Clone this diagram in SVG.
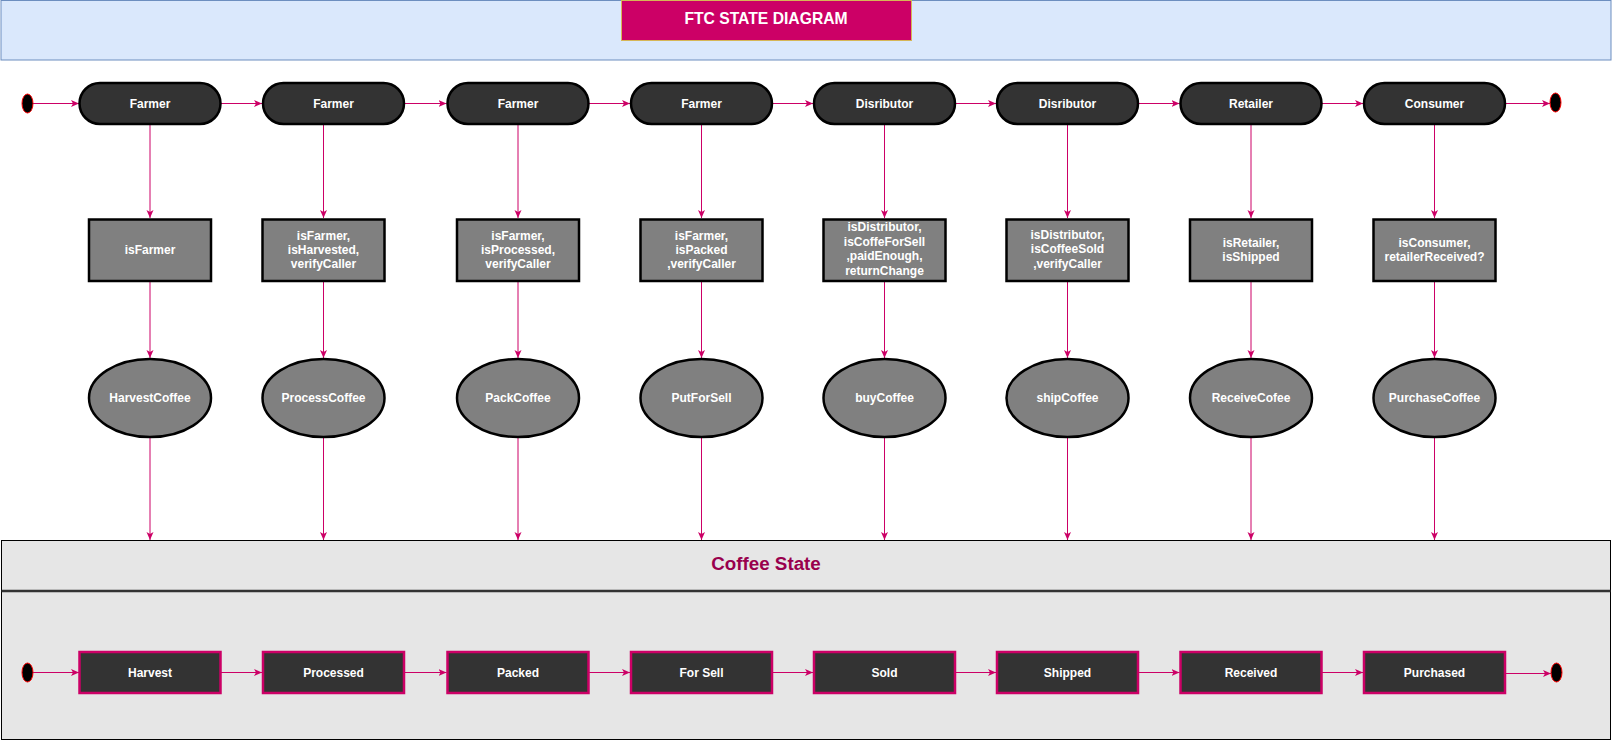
<svg xmlns="http://www.w3.org/2000/svg" width="1612" height="741" viewBox="0 0 1612 741">
<style>
text{font-family:"Liberation Sans",Arial,Helvetica,sans-serif;font-weight:bold;fill:#ffffff;text-anchor:middle;font-size:12px}
.pill{fill:#333333;stroke:#000000;stroke-width:2.5}
.guard{fill:#808080;stroke:#000000;stroke-width:2.5}
.act{fill:#808080;stroke:#000000;stroke-width:2.5}
.st{fill:#333333;stroke:#CC0066;stroke-width:2.5}
.dot{fill:#000000;stroke:#FF0000;stroke-width:1}
.c{stroke:#CC0066;stroke-width:1;fill:none;marker-end:url(#arr)}
</style>
<defs>
<marker id="arr" markerUnits="userSpaceOnUse" markerWidth="9" markerHeight="8" refX="8" refY="3.5" orient="auto">
<path d="M0,0 L8,3.5 L0,7 L2,3.5 Z" fill="#CC0066"/>
</marker>
</defs>
<rect width="1612" height="741" fill="#ffffff"/>
<g id="banner">
<rect x="1" y="0.5" width="1610" height="59.5" fill="#DAE8FC" stroke="#6C8EBF" stroke-width="1"/>
</g>
<g id="title">
<rect x="621.5" y="0.5" width="290" height="40" fill="#CC0066" stroke="#D6B656" stroke-width="1"/>
<text x="766" y="24" style="font-size:15.7px">FTC STATE DIAGRAM</text>
</g>
<g id="coffee-state">
<rect x="1.5" y="540.5" width="1609" height="199" fill="#E6E6E6" stroke="#000000" stroke-width="1"/>
<line x1="1.5" y1="591" x2="1610.5" y2="591" stroke="#333333" stroke-width="2.5"/>
<text x="766" y="569.5" style="font-size:18.8px;fill:#99004D">Coffee State</text>
</g>
<g id="connectors">
<line class="c" x1="33" y1="103.5" x2="79" y2="103.5"/>
<line class="c" x1="220.5" y1="103.5" x2="262" y2="103.5"/>
<line class="c" x1="404" y1="103.5" x2="446.5" y2="103.5"/>
<line class="c" x1="588.5" y1="103.5" x2="630" y2="103.5"/>
<line class="c" x1="772" y1="103.5" x2="813" y2="103.5"/>
<line class="c" x1="955" y1="103.5" x2="996" y2="103.5"/>
<line class="c" x1="1138" y1="103.5" x2="1179.5" y2="103.5"/>
<line class="c" x1="1321.5" y1="103.5" x2="1363" y2="103.5"/>
<line class="c" x1="1505" y1="103.5" x2="1550" y2="103.5"/>
<line class="c" x1="150" y1="124" x2="150" y2="218"/>
<line class="c" x1="323.5" y1="124" x2="323.5" y2="218"/>
<line class="c" x1="518" y1="124" x2="518" y2="218"/>
<line class="c" x1="701.5" y1="124" x2="701.5" y2="218"/>
<line class="c" x1="884.5" y1="124" x2="884.5" y2="218"/>
<line class="c" x1="1067.5" y1="124" x2="1067.5" y2="218"/>
<line class="c" x1="1251" y1="124" x2="1251" y2="218"/>
<line class="c" x1="1434.5" y1="124" x2="1434.5" y2="218"/>
<line class="c" x1="150" y1="281" x2="150" y2="358"/>
<line class="c" x1="323.5" y1="281" x2="323.5" y2="358"/>
<line class="c" x1="518" y1="281" x2="518" y2="358"/>
<line class="c" x1="701.5" y1="281" x2="701.5" y2="358"/>
<line class="c" x1="884.5" y1="281" x2="884.5" y2="358"/>
<line class="c" x1="1067.5" y1="281" x2="1067.5" y2="358"/>
<line class="c" x1="1251" y1="281" x2="1251" y2="358"/>
<line class="c" x1="1434.5" y1="281" x2="1434.5" y2="358"/>
<line class="c" x1="150" y1="437" x2="150" y2="540"/>
<line class="c" x1="323.5" y1="437" x2="323.5" y2="540"/>
<line class="c" x1="518" y1="437" x2="518" y2="540"/>
<line class="c" x1="701.5" y1="437" x2="701.5" y2="540"/>
<line class="c" x1="884.5" y1="437" x2="884.5" y2="540"/>
<line class="c" x1="1067.5" y1="437" x2="1067.5" y2="540"/>
<line class="c" x1="1251" y1="437" x2="1251" y2="540"/>
<line class="c" x1="1434.5" y1="437" x2="1434.5" y2="540"/>
<line class="c" x1="33" y1="672.5" x2="79" y2="672.5"/>
<line class="c" x1="220.5" y1="672.5" x2="262" y2="672.5"/>
<line class="c" x1="404" y1="672.5" x2="446.5" y2="672.5"/>
<line class="c" x1="588.5" y1="672.5" x2="630" y2="672.5"/>
<line class="c" x1="772" y1="672.5" x2="813" y2="672.5"/>
<line class="c" x1="955" y1="672.5" x2="996" y2="672.5"/>
<line class="c" x1="1138" y1="672.5" x2="1179.5" y2="672.5"/>
<line class="c" x1="1321.5" y1="672.5" x2="1363" y2="672.5"/>
<line class="c" x1="1505" y1="673.5" x2="1551" y2="673.5"/>
</g>
<g id="start-top"><ellipse class="dot" cx="27.5" cy="103.5" rx="5.5" ry="9.5"/></g>
<g id="end-top"><ellipse class="dot" cx="1555.5" cy="102.5" rx="5.5" ry="9.5"/></g>
<g id="start-bottom"><ellipse class="dot" cx="27.5" cy="672.5" rx="5.5" ry="9.5"/></g>
<g id="end-bottom"><ellipse class="dot" cx="1556.5" cy="672.5" rx="5.5" ry="9.5"/></g>

<g id="actor1"><rect class="pill" x="79.5" y="83" width="141" height="41" rx="20.5"/><text x="150" y="108">Farmer</text></g>
<g id="actor2"><rect class="pill" x="263" y="83" width="141" height="41" rx="20.5"/><text x="333.5" y="108">Farmer</text></g>
<g id="actor3"><rect class="pill" x="447.5" y="83" width="141" height="41" rx="20.5"/><text x="518" y="108">Farmer</text></g>
<g id="actor4"><rect class="pill" x="631" y="83" width="141" height="41" rx="20.5"/><text x="701.5" y="108">Farmer</text></g>
<g id="actor5"><rect class="pill" x="814" y="83" width="141" height="41" rx="20.5"/><text x="884.5" y="108">Disributor</text></g>
<g id="actor6"><rect class="pill" x="997" y="83" width="141" height="41" rx="20.5"/><text x="1067.5" y="108">Disributor</text></g>
<g id="actor7"><rect class="pill" x="1180.5" y="83" width="141" height="41" rx="20.5"/><text x="1251" y="108">Retailer</text></g>
<g id="actor8"><rect class="pill" x="1364" y="83" width="141" height="41" rx="20.5"/><text x="1434.5" y="108">Consumer</text></g>

<g id="guard1"><rect class="guard" x="89" y="219.5" width="122" height="61.5"/><text x="150" y="254">isFarmer</text></g>
<g id="guard2"><rect class="guard" x="262.5" y="219.5" width="122" height="61.5"/><text x="323.5" y="239.5">isFarmer,</text><text x="323.5" y="253.5">isHarvested,</text><text x="323.5" y="267.5">verifyCaller</text></g>
<g id="guard3"><rect class="guard" x="457" y="219.5" width="122" height="61.5"/><text x="518" y="239.5">isFarmer,</text><text x="518" y="253.5">isProcessed,</text><text x="518" y="267.5">verifyCaller</text></g>
<g id="guard4"><rect class="guard" x="640.5" y="219.5" width="122" height="61.5"/><text x="701.5" y="239.5">isFarmer,</text><text x="701.5" y="253.5">isPacked</text><text x="701.5" y="267.5">,verifyCaller</text></g>
<g id="guard5"><rect class="guard" x="823.5" y="219.5" width="122" height="61.5"/><text x="884.5" y="231">isDistributor,</text><text x="884.5" y="245.5">isCoffeForSell</text><text x="884.5" y="260">,paidEnough,</text><text x="884.5" y="274.5">returnChange</text></g>
<g id="guard6"><rect class="guard" x="1006.5" y="219.5" width="122" height="61.5"/><text x="1067.5" y="238.5">isDistributor,</text><text x="1067.5" y="253">isCoffeeSold</text><text x="1067.5" y="267.5">,verifyCaller</text></g>
<g id="guard7"><rect class="guard" x="1190" y="219.5" width="122" height="61.5"/><text x="1251" y="246.5">isRetailer,</text><text x="1251" y="260.5">isShipped</text></g>
<g id="guard8"><rect class="guard" x="1373.5" y="219.5" width="122" height="61.5"/><text x="1434.5" y="246.5">isConsumer,</text><text x="1434.5" y="260.5">retailerReceived?</text></g>

<g id="action1"><ellipse class="act" cx="150" cy="398" rx="61" ry="39"/><text x="150" y="402">HarvestCoffee</text></g>
<g id="action2"><ellipse class="act" cx="323.5" cy="398" rx="61" ry="39"/><text x="323.5" y="402">ProcessCoffee</text></g>
<g id="action3"><ellipse class="act" cx="518" cy="398" rx="61" ry="39"/><text x="518" y="402">PackCoffee</text></g>
<g id="action4"><ellipse class="act" cx="701.5" cy="398" rx="61" ry="39"/><text x="701.5" y="402">PutForSell</text></g>
<g id="action5"><ellipse class="act" cx="884.5" cy="398" rx="61" ry="39"/><text x="884.5" y="402">buyCoffee</text></g>
<g id="action6"><ellipse class="act" cx="1067.5" cy="398" rx="61" ry="39"/><text x="1067.5" y="402">shipCoffee</text></g>
<g id="action7"><ellipse class="act" cx="1251" cy="398" rx="61" ry="39"/><text x="1251" y="402">ReceiveCofee</text></g>
<g id="action8"><ellipse class="act" cx="1434.5" cy="398" rx="61" ry="39"/><text x="1434.5" y="402">PurchaseCoffee</text></g>

<g id="state1"><rect class="st" x="79.5" y="652" width="141" height="41"/><text x="150" y="677">Harvest</text></g>
<g id="state2"><rect class="st" x="263" y="652" width="141" height="41"/><text x="333.5" y="677">Processed</text></g>
<g id="state3"><rect class="st" x="447.5" y="652" width="141" height="41"/><text x="518" y="677">Packed</text></g>
<g id="state4"><rect class="st" x="631" y="652" width="141" height="41"/><text x="701.5" y="677">For Sell</text></g>
<g id="state5"><rect class="st" x="814" y="652" width="141" height="41"/><text x="884.5" y="677">Sold</text></g>
<g id="state6"><rect class="st" x="997" y="652" width="141" height="41"/><text x="1067.5" y="677">Shipped</text></g>
<g id="state7"><rect class="st" x="1180.5" y="652" width="141" height="41"/><text x="1251" y="677">Received</text></g>
<g id="state8"><rect class="st" x="1364" y="652" width="141" height="41"/><text x="1434.5" y="677">Purchased</text></g>
</svg>
